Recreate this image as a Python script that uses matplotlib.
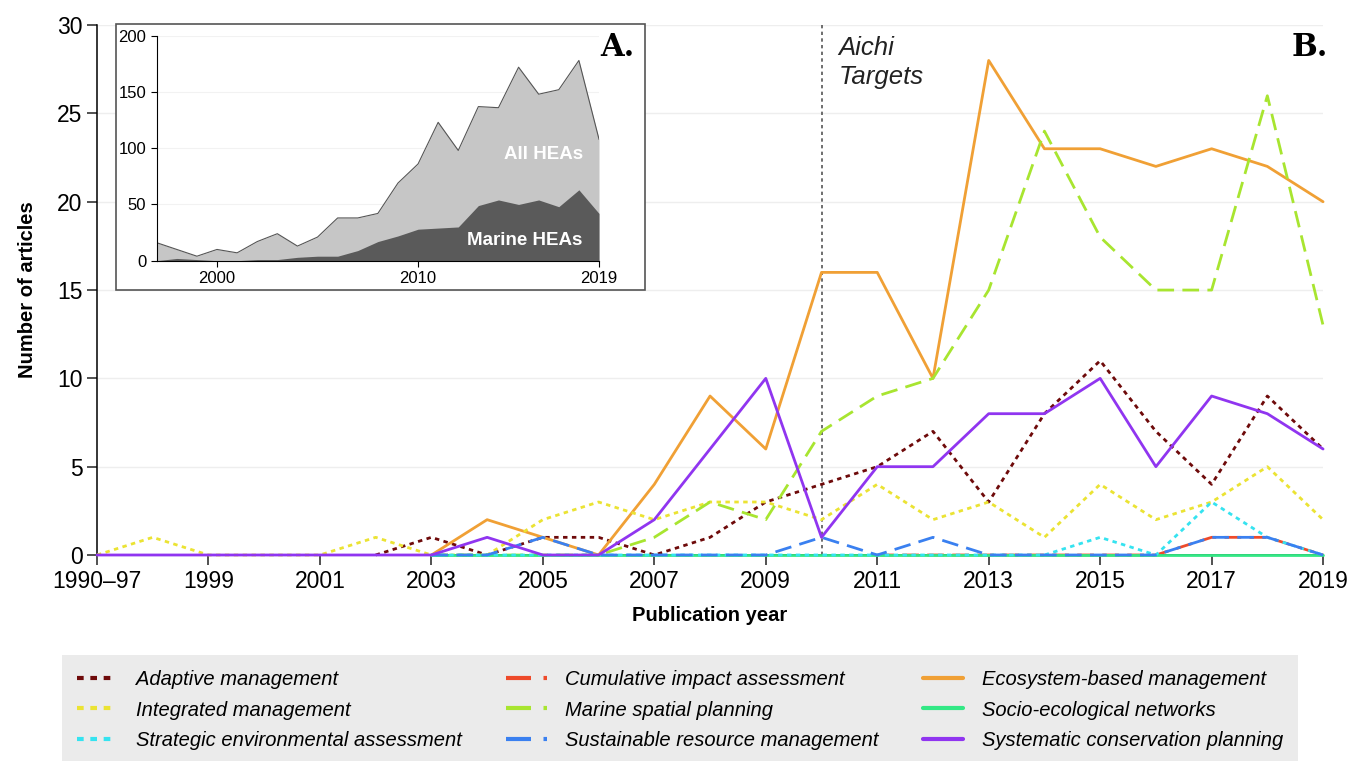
import numpy as np
import matplotlib
matplotlib.use("Agg")
import matplotlib.pyplot as plt
from matplotlib.patches import Rectangle

plt.rcParams['font.family'] = ['Liberation Sans', 'DejaVu Sans']

# ---- data: main panel (B) ----
year_labels = ['1990–97'] + [str(y) for y in range(1998, 2020)]
FIRST = 1997  # index 0 holds 1990-97, index i holds year FIRST + i


def series(start, values):
    """NaN before the first year with data."""
    start_idx = 0 if start is None else start - FIRST
    return np.array([np.nan] * start_idx + list(values), dtype=float)


adaptive = series(2002, [0, 1, 0, 1, 1, 0, 1, 3, 4, 5, 7, 3, 8, 11, 7, 4, 9, 6])
cumulative = series(2011, [0, 0, 0, 0, 0, 0, 1, 1, 0])
ecosystem = series(2003, [0, 2, 1, 0, 4, 9, 6, 16, 16, 10, 28, 23, 23, 22, 23, 22, 20])
integrated = series(None, [0, 1, 0, 0, 0, 1, 0, 0, 2, 3, 2, 3, 3, 2, 4, 2, 3, 1, 4, 2, 3, 5, 2])
marine_sp = series(2003, [0, 0, 0, 0, 1, 3, 2, 7, 9, 10, 15, 24, 18, 15, 15, 26, 13])
socio = series(2003, [0] * 17)
strategic = series(2003, [0, 0, 0, 0, 0, 0, 0, 0, 0, 0, 0, 0, 1, 0, 3, 1, 0])
sustainable = series(2003, [0, 0, 1, 0, 0, 0, 0, 1, 0, 1, 0, 0, 0, 0, 1, 1, 0])
systematic = series(None, [0, 0, 0, 0, 0, 0, 0, 1, 0, 0, 2, 6, 10, 1, 5, 5, 8, 8, 10, 5, 9, 8, 6])

names = ['Adaptive management', 'Cumulative impact assessment', 'Ecosystem-based management',
         'Integrated management', 'Marine spatial planning', 'Socio-ecological networks',
         'Strategic environmental assessment', 'Sustainable resource management',
         'Systematic conservation planning']
data = [adaptive, cumulative, ecosystem, integrated, marine_sp, socio,
        strategic, sustainable, systematic]
colors = ['#6e0a0a', '#ee4a2a', '#f0a035', '#ebe333', '#a8e530', '#33e885',
          '#35e3f0', '#3a80f0', '#9035f0']
DOT = (0, (1.6, 1.6))
DASH = (0, (6, 3))
styles = [DOT, DASH, '-', DOT, DASH, '-', DOT, DASH, '-']

# ---- data: inset (A) ----
inset_years = np.arange(1997, 2020)
all_heas = [16, 10, 4, 10, 7, 17, 24, 13, 21, 38, 38, 42, 69, 86, 123, 98, 137, 136, 172, 148, 152, 178, 108]
marine_heas = [0, 2, 1, 0, 0, 1, 1, 3, 4, 4, 9, 17, 22, 28, 29, 30, 49, 54, 50, 54, 48, 63, 42]

# ===============================
# FIGURE
# ===============================
fig = plt.figure(figsize=(13.57, 7.61), dpi=100)
ax = fig.add_axes([0.0715, 0.2707, 0.9035, 0.6963])

x = np.arange(len(year_labels))
for vals, name, col, ls in zip(data, names, colors, styles):
    ax.plot(x, vals, color=col, linestyle=ls, linewidth=2.0, label=name,
            dash_capstyle='butt', solid_capstyle='round', clip_on=False, zorder=3)

ax.axvline(2010 - FIRST, color='#555555', linestyle=(0, (2, 2)), linewidth=1.2, zorder=1)
ax.text(2010 - FIRST + 0.3, 29.4, 'Aichi\nTargets', fontsize=18.5, style='italic',
        color='#222222', va='top', ha='left', linespacing=1.3)

ax.set_xlim(0, len(year_labels) - 1)
ax.set_ylim(0, 30)
ax.set_xticks(x[::2])
ax.set_xticklabels(year_labels[::2])
ax.set_yticks(np.arange(0, 31, 5))
ax.tick_params(labelsize=16.5, length=7, width=1.1, direction='out', colors='#222222')
ax.tick_params(labelcolor='black')
ax.grid(axis='y', color='#eeeeee', linewidth=1)
ax.set_axisbelow(True)
for s in ['top', 'right']:
    ax.spines[s].set_visible(False)
for s in ['left', 'bottom']:
    ax.spines[s].set_linewidth(1.1)
ax.set_xlabel('Publication year', fontsize=14.5, fontweight='bold', labelpad=10)
ax.set_ylabel('Number of articles', fontsize=14.5, fontweight='bold', labelpad=14)

fig.text(1310 / 1357, 1 - 47 / 761, 'B.', fontsize=22, fontweight='bold',
         family='DejaVu Serif', ha='center', va='center')

# legend, arranged row-wise like the original
order = [0, 3, 6, 1, 4, 7, 2, 5, 8]
h, l = ax.get_legend_handles_labels()
leg = fig.legend([h[i] for i in order], [l[i] for i in order], ncol=3,
                 bbox_to_anchor=(52 / 1357, 1 - 760 / 761, 1256 / 1357, 100 / 761),
                 loc='center', mode='expand', frameon=True, fancybox=False,
                 facecolor='#ebebeb', edgecolor='none', framealpha=1,
                 prop={'size': 14.5, 'style': 'italic'}, handlelength=2.0,
                 labelspacing=0.55, borderpad=0.75, handletextpad=0.9)
for line in leg.get_lines():
    line.set_linewidth(3)

# ---- inset panel ----
fig.patches.append(Rectangle((116 / 1357, 1 - 290 / 761), 529 / 1357, 266 / 761,
                             transform=fig.transFigure, facecolor='white',
                             edgecolor='#555555', linewidth=1.2, zorder=2))
axi = fig.add_axes([156.7 / 1357, 1 - 260.7 / 761, 442.3 / 1357, 225 / 761], zorder=3)
axi.fill_between(inset_years, all_heas, color='#c6c6c6', linewidth=0)
axi.plot(inset_years, all_heas, color='#555555', linewidth=0.8)
axi.fill_between(inset_years, marine_heas, color='#5a5a5a', linewidth=0)
axi.set_xlim(1997, 2019)
axi.set_ylim(0, 200)
axi.set_xticks([2000, 2010, 2019])
axi.set_yticks([0, 50, 100, 150, 200])
axi.tick_params(labelsize=12, length=4, width=0.8)
axi.grid(axis='y', color='#f2f2f2', linewidth=0.8)
axi.set_axisbelow(True)
for s in ['top', 'right']:
    axi.spines[s].set_visible(False)
for s in ['left', 'bottom']:
    axi.spines[s].set_linewidth(0.8)
axi.text(2016.25, 94, 'All HEAs', color='white', fontsize=13.5, fontweight='bold',
         ha='center', va='center')
axi.text(2015.3, 18, 'Marine HEAs', color='white', fontsize=13.5, fontweight='bold',
         ha='center', va='center')
fig.text(617 / 1357, 1 - 47 / 761, 'A.', fontsize=22, fontweight='bold',
         family='DejaVu Serif', ha='center', va='center', zorder=4)

fig.savefig('out.png', dpi=100)
